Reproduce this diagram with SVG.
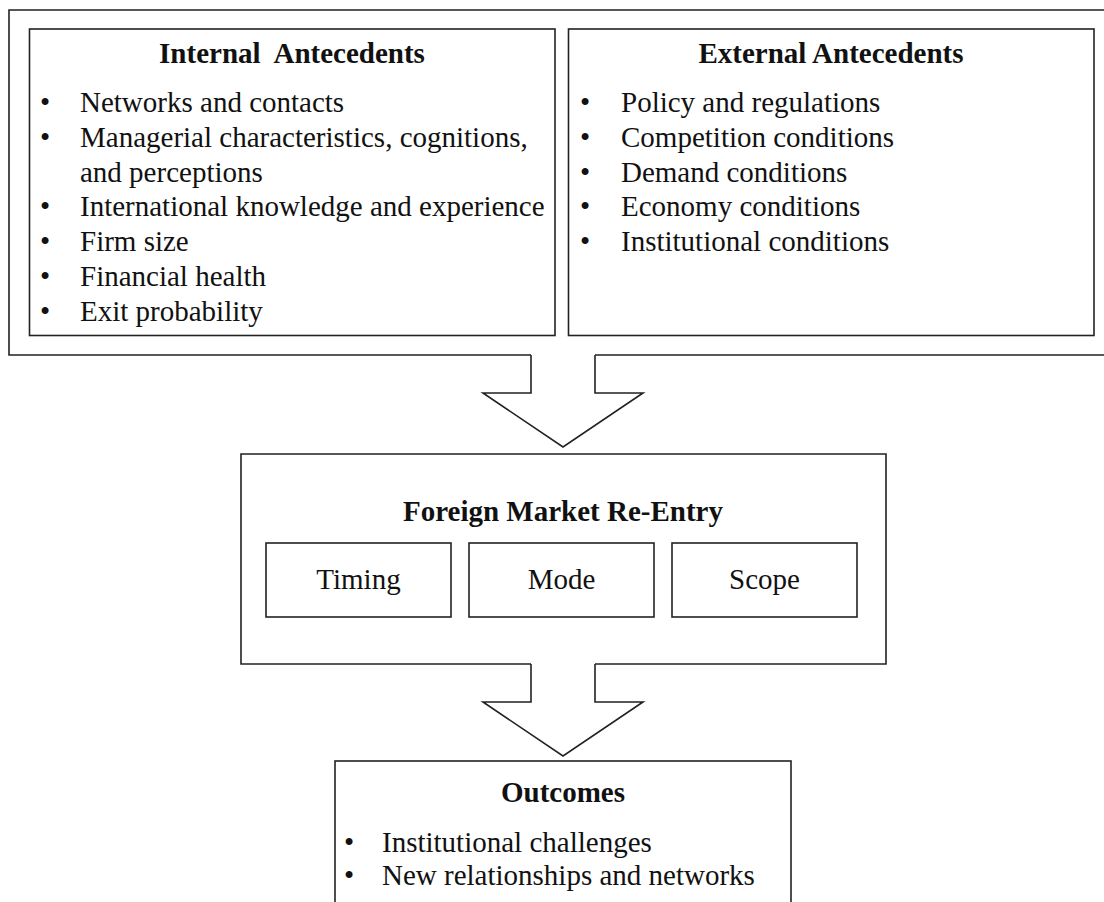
<svg xmlns="http://www.w3.org/2000/svg" width="1104" height="902" viewBox="0 0 1104 902">
<style>
.box{fill:none;stroke:#222;stroke-width:1.6}
.t{font-family:"Liberation Serif","Times New Roman",serif;font-size:29px;fill:#111}
.h{font-family:"Liberation Serif","Times New Roman",serif;font-size:29px;font-weight:bold;fill:#111}
.c{text-anchor:middle}
</style>
<rect width="1104" height="902" fill="#fff"/>
<g id="antecedents">
<path class="box" d="M531,355 H9 V10 H1110 M595,355 H1110"/>
</g>
<g id="internal">
<rect class="box" x="29.5" y="29" width="525.5" height="306.5"/>
<text class="h c" x="292" y="63" xml:space="preserve">Internal  Antecedents</text>
<g class="t">
<text x="40" y="112">•</text><text x="80" y="112">Networks and contacts</text>
<text x="40" y="147">•</text><text x="80" y="147">Managerial characteristics, cognitions,</text>
<text x="80" y="182">and perceptions</text>
<text x="40" y="216">•</text><text x="80" y="216">International knowledge and experience</text>
<text x="40" y="251">•</text><text x="80" y="251">Firm size</text>
<text x="40" y="286">•</text><text x="80" y="286">Financial health</text>
<text x="40" y="321">•</text><text x="80" y="321">Exit probability</text>
</g>
</g>
<g id="external">
<rect class="box" x="568.5" y="29" width="525.5" height="306.5"/>
<text class="h c" x="831" y="63">External Antecedents</text>
<g class="t">
<text x="580" y="112">•</text><text x="621" y="112">Policy and regulations</text>
<text x="580" y="147">•</text><text x="621" y="147">Competition conditions</text>
<text x="580" y="182">•</text><text x="621" y="182">Demand conditions</text>
<text x="580" y="216">•</text><text x="621" y="216">Economy conditions</text>
<text x="580" y="251">•</text><text x="621" y="251">Institutional conditions</text>
</g>
</g>
<g id="reentry">
<path class="box" d="M531,664 H241 V454 H886 V664 H595"/>
<text class="h c" x="563" y="521">Foreign Market Re-Entry</text>
</g>
<g id="timing">
<rect class="box" x="266" y="543" width="185" height="74"/>
<text class="t c" x="358.5" y="589">Timing</text>
</g>
<g id="mode">
<rect class="box" x="469" y="543" width="185" height="74"/>
<text class="t c" x="561.5" y="589">Mode</text>
</g>
<g id="scope">
<rect class="box" x="672" y="543" width="185" height="74"/>
<text class="t c" x="764.5" y="589">Scope</text>
</g>
<g id="outcomes">
<rect class="box" x="335" y="761" width="456" height="160"/>
<text class="h c" x="563" y="802">Outcomes</text>
<g class="t">
<text x="344" y="852">•</text><text x="382" y="852">Institutional challenges</text>
<text x="344" y="885">•</text><text x="382" y="885">New relationships and networks</text>
</g>
</g>
<g id="connectors">
<path class="box" d="M531,355 V393 H483 L563,447 L643,393 H595 V355"/>
<path class="box" d="M531,664 V702 H483 L563,756 L643,702 H595 V664"/>
</g>
</svg>
